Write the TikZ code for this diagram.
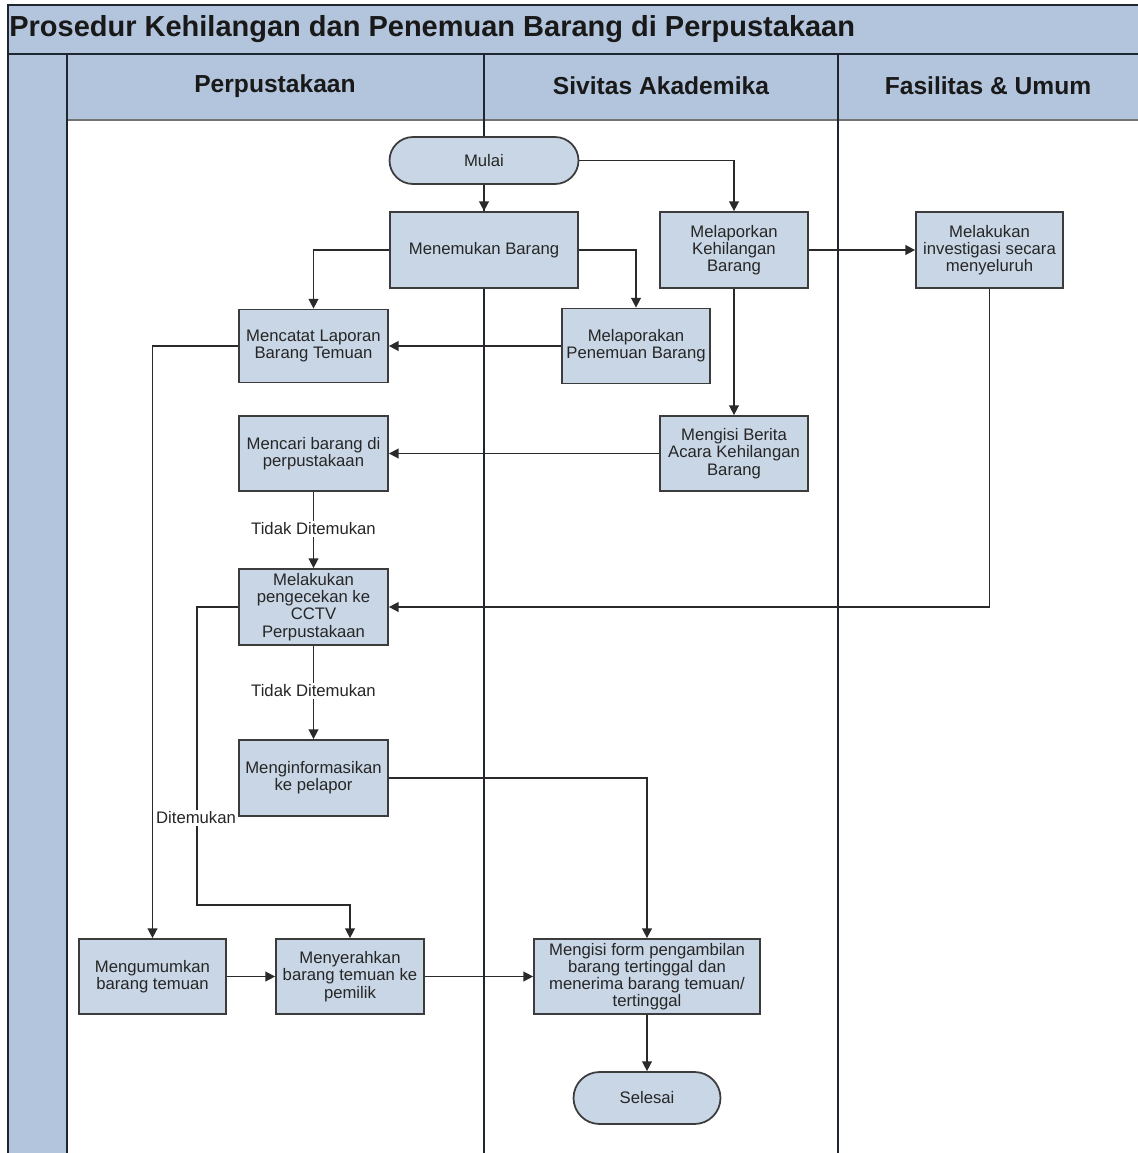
\documentclass[tikz,border=0pt]{standalone}
\usepackage{fontspec}
\setmainfont{Liberation Sans}
\usetikzlibrary{arrows.meta}
\definecolor{bandblue}{HTML}{B3C5DD}
\definecolor{boxfill}{HTML}{C9D6E6}
\definecolor{boxline}{HTML}{3C3C3C}
\definecolor{frameline}{HTML}{1E2630}
\definecolor{connline}{HTML}{2A2A2A}
\tikzset{
  procbox/.style={draw=boxline, line width=1pt, fill=boxfill, align=center, inner sep=1pt,
    text=black!85, font=\fontsize{9.5}{9.8}\selectfont},
  termbox/.style={procbox, rounded corners=#1},
  arr/.style={draw=connline, line width=0.85pt, -{Triangle[length=5.5pt,width=5.5pt]}},
  lbl/.style={fill=white, inner sep=1pt, font=\fontsize{9.5}{10}\selectfont, text=black!85},
  hdr/.style={font=\fontsize{14}{16}\selectfont\bfseries, text=black!90},
  frm/.style={draw=frameline, line width=1.3pt}
}
\begin{document}
\begin{tikzpicture}[x=0.02cm,y=-0.02cm]
\useasboundingbox (0,0) rectangle (1138,1153);
\clip (0,0) rectangle (1138,1153);
% frame
\fill[bandblue] (8,5) rectangle (1150,54);
\fill[bandblue] (8,54) rectangle (67,1160);
\fill[bandblue] (67,54) rectangle (1150,120);
\draw[black!55, line width=0.8pt] (67,120) -- (1150,120);
\draw[frm] (8,1160) -- (8,5) -- (1150,5);
\draw[frm] (8,54) -- (1150,54);
\draw[frm] (67,54) -- (67,1160);
\draw[frm] (484,54) -- (484,1160);
\draw[frm] (838,54) -- (838,1160);
\node[anchor=west, inner sep=0, font=\fontsize{16.5}{19}\selectfont\bfseries, text=black!90] (title) at (9,29) {Prosedur Kehilangan dan Penemuan Barang di Perpustakaan};
\node[hdr] (h1) at (275,86) {Perpustakaan};
\node[hdr] (h2) at (661,86) {Sivitas Akademika};
\node[hdr] (h3) at (988,86) {Fasilitas \& Umum};
% nodes
\node[termbox=0.47cm, minimum width=3.78cm, minimum height=0.94cm] (mulai) at (484,160.5) {Mulai};
\node[procbox, minimum width=3.76cm, minimum height=1.52cm] (temu) at (484,250) {Menemukan Barang};
\node[procbox, minimum width=2.96cm, minimum height=1.52cm] (lapor) at (734,250) {Melaporkan\\Kehilangan\\Barang};
\node[procbox, minimum width=2.94cm, minimum height=1.52cm] (inv) at (989.5,250) {Melakukan\\investigasi secara\\menyeluruh};
\node[procbox, minimum width=2.98cm, minimum height=1.46cm] (catat) at (313.5,346) {Mencatat Laporan\\Barang Temuan};
\node[procbox, minimum width=2.96cm, minimum height=1.50cm] (lapp) at (636,346) {Melaporakan\\Penemuan Barang};
\node[procbox, minimum width=2.98cm, minimum height=1.50cm] (cari) at (313.5,453.5) {Mencari barang di\\perpustakaan};
\node[procbox, minimum width=2.96cm, minimum height=1.50cm] (berita) at (734,453.5) {Mengisi Berita\\Acara Kehilangan\\Barang};
\node[procbox, minimum width=2.98cm, minimum height=1.52cm] (cctv) at (313.5,607) {Melakukan\\pengecekan ke\\CCTV\\Perpustakaan};
\node[procbox, minimum width=2.98cm, minimum height=1.52cm] (info) at (313.5,778) {Menginformasikan\\ke pelapor};
\node[procbox, minimum width=2.94cm, minimum height=1.50cm] (umum) at (152.5,976.5) {Mengumumkan\\barang temuan};
\node[procbox, minimum width=2.96cm, minimum height=1.50cm] (serah) at (350,976.5) {Menyerahkan\\barang temuan ke\\pemilik};
\node[procbox, minimum width=4.52cm, minimum height=1.50cm] (form) at (647,976.5) {Mengisi form pengambilan\\barang tertinggal dan\\menerima barang temuan/\\tertinggal};
\node[termbox=0.52cm, minimum width=2.94cm, minimum height=1.04cm] (selesai) at (647,1098) {Selesai};
% connectors
\draw[arr] (mulai) -- (temu);
\draw[arr] (mulai.east) -| (lapor.north);
\draw[arr] (temu.west) -| (catat.north);
\draw[arr] (temu.east) -| (lapp.north);
\draw[arr] (lapor) -- (inv);
\draw[arr] (lapor) -- (berita);
\draw[arr] (lapp) -- (catat);
\draw[arr] (berita) -- (cari);
\draw[arr] (cari) -- (cctv);
\draw[arr] (inv.south) |- (cctv.east);
\draw[arr] (cctv) -- (info);
\coordinate (dt) at (197,905);
\draw[arr] (cctv.west) -| (dt) -| (serah.north);
\draw[arr] (catat.west) -| (umum.north);
\draw[arr] (info.east) -| (form.north);
\draw[arr] (umum) -- (serah);
\draw[arr] (serah) -- (form);
\draw[arr] (form) -- (selesai);
% labels
\node[lbl] (l1) at (313.5,529) {Tidak Ditemukan};
\node[lbl] (l2) at (313.5,691) {Tidak Ditemukan};
\node[lbl] (l3) at (196,818) {Ditemukan};
\end{tikzpicture}
\end{document}
